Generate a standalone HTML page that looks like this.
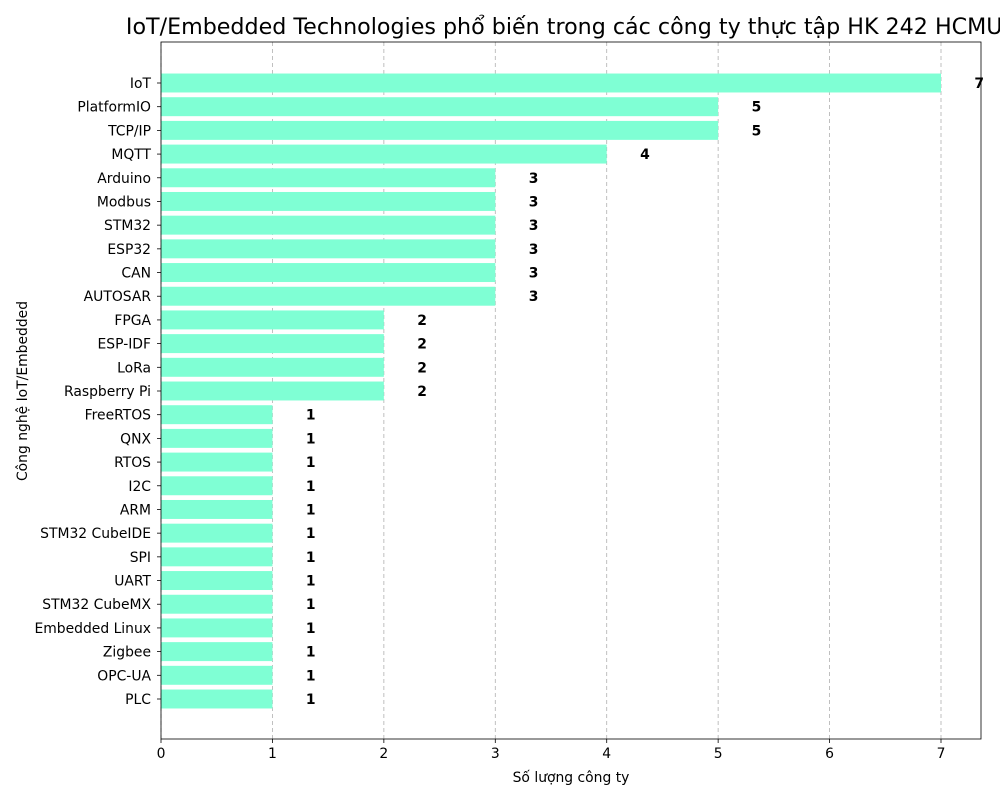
<!DOCTYPE html>
<html><head><meta charset="utf-8">
<style>
html,body{margin:0;padding:0;background:#fff;}
svg{display:block;font-family:"DejaVu Sans","Liberation Sans",sans-serif;}
</style></head>
<body>
<svg id="chart" width="1000" height="800" viewBox="0 0 1000 800" xmlns="http://www.w3.org/2000/svg">
<text x="571" y="34" font-size="22.2" text-anchor="middle" fill="#000">IoT/Embedded Technologies phổ biến trong các công ty thực tập HK 242 HCMUT</text>
<g id="grid"></g>
<g id="bars"></g>
<g id="labels"></g>
<g id="axes"></g>
<text x="571" y="782" font-size="13.9" text-anchor="middle">Số lượng công ty</text>
<text transform="translate(27,391) rotate(-90)" font-size="13.9" text-anchor="middle">Công nghệ IoT/Embedded</text>
</svg>
<script>
const categories = ["IoT","PlatformIO","TCP/IP","MQTT","Arduino","Modbus","STM32","ESP32","CAN","AUTOSAR","FPGA","ESP-IDF","LoRa","Raspberry Pi","FreeRTOS","QNX","RTOS","I2C","ARM","STM32 CubeIDE","SPI","UART","STM32 CubeMX","Embedded Linux","Zigbee","OPC-UA","PLC"];
const values = [7,5,5,4,3,3,3,3,3,3,2,2,2,2,1,1,1,1,1,1,1,1,1,1,1,1,1];
const xTicks = [0,1,2,3,4,5,6,7];

const NS = "http://www.w3.org/2000/svg";
const L = 161, R = 981, T = 42, B = 739;
const x0 = 161, pxPerUnit = (941 - 161) / 7;
const xs = v => x0 + v * pxPerUnit;
const step = (699 - 83) / 26;
const ys = i => 83 + i * step;
const barH = step * 0.8;

function mk(tag, attrs, parent, txt) {
  const e = document.createElementNS(NS, tag);
  for (const k in attrs) e.setAttribute(k, attrs[k]);
  if (txt !== undefined) e.textContent = txt;
  parent.appendChild(e);
  return e;
}
const grid = document.getElementById('grid');
const bars = document.getElementById('bars');
const labels = document.getElementById('labels');
const axes = document.getElementById('axes');

xTicks.forEach(t => {
  const g = mk('line', {x1: xs(t), x2: xs(t), y1: T, y2: B, stroke: '#b0b0b0', 'stroke-width': 0.8, 'stroke-dasharray': '4,3'}, grid);
  
  
  const tk = mk('line', {x1: xs(t), x2: xs(t), y1: B, y2: B + 4, stroke: '#000', 'stroke-width': 0.8}, axes);
  
  
  const tl = mk('text', {x: xs(t), y: B + 19, 'font-size': 13.9, 'text-anchor': 'middle'}, axes, String(t));
  
  
});

categories.forEach((c, i) => {
  const v = values[i];
  const y = ys(i);
  const r = mk('rect', {x: xs(0), y: y - barH / 2, width: xs(v) - xs(0), height: barH, fill: '#7fffd4'}, bars);
  
  
  const vl = mk('text', {x: xs(v + 0.3), y: y + 5, 'font-size': 13.9, 'font-weight': 'bold'}, labels, String(v));
  
  
  const tk = mk('line', {x1: L - 4, x2: L, y1: y, y2: y, stroke: '#000', 'stroke-width': 0.8}, axes);
  
  
  const cl = mk('text', {x: L - 10, y: y + 5, 'font-size': 13.9, 'text-anchor': 'end'}, axes, c);
  
  
});

const frame = mk('rect', {x: L, y: T, width: R - L, height: B - T, fill: 'none', stroke: '#000', 'stroke-width': 0.8}, axes);


</script>
</body></html>
